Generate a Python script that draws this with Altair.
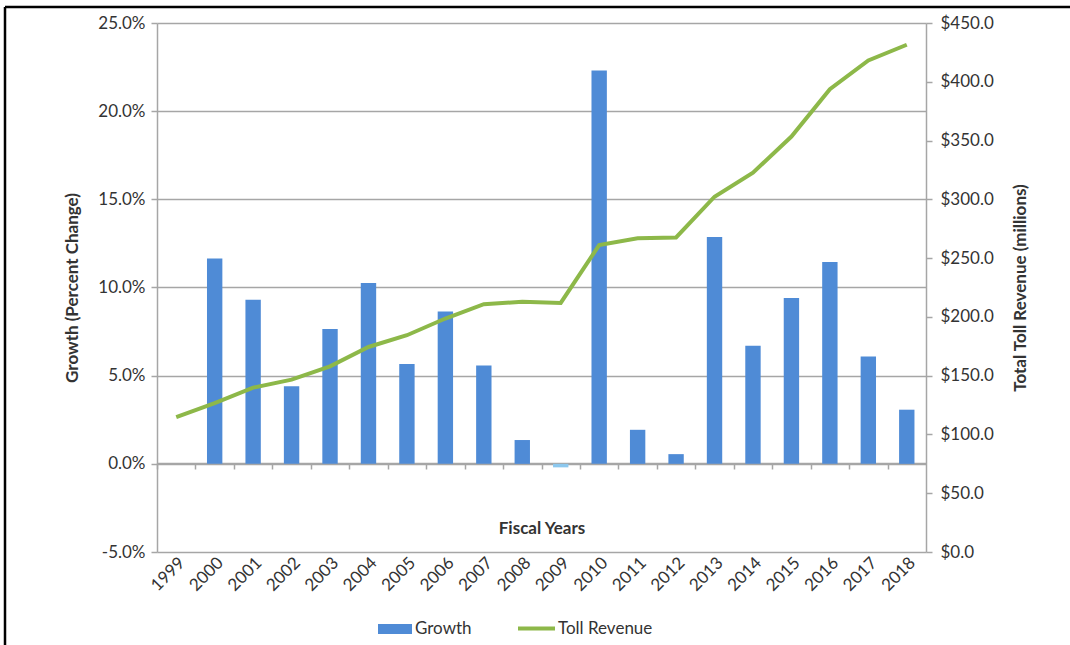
import altair as alt
import pandas as pd

# Fiscal years on the category axis
years = [str(y) for y in range(1999, 2019)]

# Year-over-year growth in toll revenue (fraction); no prior year for 1999
growth = [None, 0.1165, 0.0930, 0.0440, 0.0765, 0.1025, 0.0566, 0.0864, 0.0557, 0.0135,
          -0.0020, 0.2230, 0.0193, 0.0055, 0.1286, 0.0669, 0.0941, 0.1144, 0.0608, 0.0307]

# Total toll revenue, millions of dollars
revenue = [114.7, 126.7, 139.8, 146.6, 157.9, 174.4, 184.4, 198.6, 210.8, 212.8,
           211.9, 261.1, 266.8, 267.6, 302.2, 322.7, 353.4, 393.7, 418.1, 431.5]

pct_ticks = [-0.05, 0.0, 0.05, 0.10, 0.15, 0.20, 0.25]
usd_ticks = [0, 50, 100, 150, 200, 250, 300, 350, 400, 450]

df = pd.DataFrame({"year": years, "growth": growth, "revenue": revenue})
df["s_growth"] = "Growth"
df["s_rev"] = "Toll Revenue"

W, H = 769, 529
FONT = "Lato"
TEXT = "#333333"
GRID = "#a6a6a6"
BLUE = "#4f8bd6"
BLUE_NEG = "#8cc8ee"
GREEN = "#8db849"

base = alt.Chart(df)

x_scale = alt.Scale(domain=years, paddingInner=0.6, paddingOuter=0.3)
pct_scale = alt.Scale(domain=[-0.05, 0.25], nice=False)

# Positive growth bars carry the axes and the "Growth" legend entry
bars = base.transform_filter("isValid(datum.growth) && datum.growth >= 0").mark_bar().encode(
    x=alt.X("year:N", scale=x_scale, axis=alt.Axis(
        orient="bottom", title="Fiscal Years", titleX=W / 2, titleY=-24,
        titleBaseline="middle", titleAlign="center", titleFontSize=17,
        labelAngle=-45, labelAlign="right", labelBaseline="middle",
        labelPadding=8, labelOffset=6, ticks=False, domain=False, grid=False)),
    y=alt.Y("growth:Q", scale=pct_scale, axis=alt.Axis(
        orient="left", values=pct_ticks,
        labelExpr="replace(format(datum.value, '.1%'), '\u2212', '-')",
        title="Growth (Percent Change)",
        titleX=-85, titleBaseline="middle", grid=True, gridColor=GRID, gridWidth=1.5,
        tickSize=6, tickColor=GRID, tickWidth=1.5, domainColor=GRID, domainWidth=1.5,
        labelPadding=6)),
    color=alt.Color("s_growth:N", scale=alt.Scale(domain=["Growth"], range=[BLUE]),
                    legend=alt.Legend(title=None, orient="none", legendX=221, legendY=589,
                                      symbolType="M-1,-0.3H1V0.3H-1Z", symbolSize=1156,
                                      symbolStrokeWidth=0, labelOffset=3)),
)

# Negative growth drawn in a lighter shade
bars_neg = base.transform_filter("isValid(datum.growth) && datum.growth < 0").mark_bar(
    color=BLUE_NEG
).encode(
    x=alt.X("year:N", scale=x_scale, axis=None),
    y=alt.Y("growth:Q", scale=pct_scale, axis=None),
)

line = base.mark_line(strokeWidth=4).encode(
    x=alt.X("year:N", scale=x_scale, axis=alt.Axis(
        orient="bottom", offset=-89, labels=False, title=None, grid=False,
        ticks=True, tickSize=6, tickColor=GRID, tickWidth=1.5, tickOffset=-W / 40,
        domain=True, domainColor=GRID, domainWidth=1.5)),
    y=alt.Y("revenue:Q", scale=alt.Scale(domain=[0, 450], nice=False), axis=alt.Axis(
        orient="right", values=usd_ticks, format="$.1f", title="Total Toll Revenue (millions)",
        titleAngle=270, titleX=94, titleBaseline="middle", grid=False,
        tickSize=6, tickColor=GRID, tickWidth=1.5, domainColor=GRID, domainWidth=1.5,
        labelPadding=8)),
    stroke=alt.Stroke("s_rev:N", scale=alt.Scale(domain=["Toll Revenue"], range=[GREEN]),
                      legend=alt.Legend(title=None, orient="none", legendX=359, legendY=585,
                                        symbolType="stroke", symbolSize=1369,
                                        symbolStrokeWidth=4, labelOffset=1)),
)

# Page frame along the top and left edges
frame_data = alt.Data(values=[{}])
frame_top = alt.Chart(frame_data).mark_rule(color="#000000", strokeWidth=2.5).encode(
    x=alt.value(-152), x2=alt.value(913), y=alt.value(-16))
frame_left = alt.Chart(frame_data).mark_rule(color="#000000", strokeWidth=2.5).encode(
    x=alt.value(-152), y=alt.value(-16), y2=alt.value(622))

chart = alt.layer(bars, bars_neg, line, frame_top, frame_left).resolve_scale(
    y="independent"
).resolve_axis(
    x="independent", y="independent"
).properties(
    width=W, height=H,
    padding={"left": 157, "top": 23, "right": 144, "bottom": 93},
    autosize=alt.AutoSizeParams(type="none"),
    background="white",
).configure_view(
    stroke=None
).configure_axis(
    labelFont=FONT, labelFontSize=17, labelColor=TEXT,
    titleFont=FONT, titleFontSize=17, titleFontWeight="bold", titleColor=TEXT,
).configure_legend(
    labelFont=FONT, labelFontSize=17, labelColor=TEXT, direction="horizontal",
)

chart.save("out.html", embed_options={"renderer": "svg", "actions": False})
